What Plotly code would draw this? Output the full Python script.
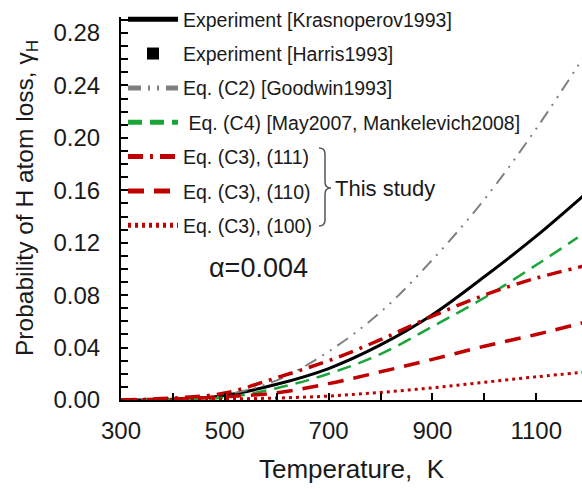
import plotly.graph_objects as go

# ---------------- data ----------------
T = [300, 400, 500, 600, 700, 800, 900, 1000, 1100, 1200]
krasnoperov = [0.0000, 0.0005, 0.0035, 0.012, 0.024, 0.042, 0.065, 0.094, 0.125, 0.159]
goodwin = [0.0000, 0.0005, 0.004, 0.015, 0.037, 0.067, 0.107, 0.153, 0.207, 0.267]
T_may = [300, 400, 500, 600, 700, 800, 900, 1000, 1100, 1180]
may = [0.0000, 0.0003, 0.0018, 0.009, 0.020, 0.035, 0.056, 0.078, 0.103, 0.124]
c3_111 = [0.0000, 0.0015, 0.0053, 0.017, 0.030, 0.046, 0.064, 0.080, 0.093, 0.103]
c3_110 = [0.0000, 0.0008, 0.0025, 0.0055, 0.0125, 0.0215, 0.031, 0.041, 0.050, 0.060]
c3_100 = [0.0000, 0.0003, 0.0008, 0.0015, 0.003, 0.0058, 0.0093, 0.0135, 0.0177, 0.0215]
T_harris = [1200]
harris = [0.118]

y_ticks = [0.00, 0.04, 0.08, 0.12, 0.16, 0.20, 0.24, 0.28]
x_ticks = [300, 500, 700, 900, 1100]

FONT = "Liberation Sans, Arial, sans-serif"
RED = "#c00000"
TXT = "#1a1a1a"

# ---------------- geometry helpers (pixels -> paper) ----------------
W, H = 582, 489
L, R, TOP, BOT = 121, 0, 17, 89
PW, PH = W - L - R, H - TOP - BOT


def px(x):
    return (x - L) / PW


def py(y):
    return (H - BOT - y) / PH


fig = go.Figure()
fig.add_trace(go.Scatter(x=T, y=krasnoperov, mode="lines", name="Experiment [Krasnoperov1993]",
                         line=dict(color="black", width=3, shape="spline"), legendgroup="a"))
fig.add_trace(go.Scatter(x=T_harris, y=harris, mode="markers", name="Experiment [Harris1993]",
                         marker=dict(symbol="square", color="black", size=20), cliponaxis=False,
                         legendgroup="b"))
fig.add_trace(go.Scatter(x=T, y=goodwin, mode="lines", name="Eq. (C2) [Goodwin1993]",
                         line=dict(color="#808080", width=2, shape="spline",
                                   dash="13px,7px,2px,7px,2px,7px"), legendgroup="c"))
fig.add_trace(go.Scatter(x=T_may, y=may, mode="lines", name=" Eq. (C4) [May2007, Mankelevich2008]",
                         line=dict(color="#1aa539", width=2.5, shape="spline", dash="14px,8px"),
                         legendgroup="d"))
fig.add_trace(go.Scatter(x=T, y=c3_111, mode="lines", name="Eq. (C3), (111)",
                         line=dict(color=RED, width=3.5, shape="spline", dash="15px,7px,3px,7px"),
                         legendgroup="e"))
fig.add_trace(go.Scatter(x=T, y=c3_110, mode="lines", name="Eq. (C3), (110)",
                         line=dict(color=RED, width=3.5, shape="spline", dash="16px,10px"),
                         legendgroup="f"))
fig.add_trace(go.Scatter(x=T, y=c3_100, mode="lines", name="Eq. (C3), (100)",
                         line=dict(color=RED, width=3, shape="spline", dash="3px,4px"),
                         legendgroup="g"))

# brace for "This study"
pts = lambda a, b: f"{px(a)},{py(b)}"
brace = (f"M {pts(319,148)} Q {pts(325,148)} {pts(325,154)} L {pts(325,182)} "
         f"Q {pts(325,188)} {pts(331,188)} Q {pts(325,188)} {pts(325,194)} "
         f"L {pts(325,220)} Q {pts(325,226)} {pts(319,226)}")
fig.add_shape(type="path", path=brace, xref="paper", yref="paper",
              line=dict(color="#555555", width=1.5))

fig.add_annotation(x=px(333), y=py(188), xref="paper", yref="paper", text="This study",
                   showarrow=False, xanchor="left", yanchor="middle",
                   font=dict(family=FONT, size=22, color=TXT))
fig.add_annotation(x=px(258), y=py(268), xref="paper", yref="paper", text="α=0.004",
                   showarrow=False, xanchor="center", yanchor="middle",
                   font=dict(family=FONT, size=27, color=TXT))
fig.add_annotation(x=px(26), y=py(198), xref="paper", yref="paper",
                   text="Probability of H atom loss, γ<sub>H</sub>", textangle=-90,
                   showarrow=False, xanchor="center", yanchor="middle",
                   font=dict(family=FONT, size=24.5, color=TXT))

fig.update_layout(
    width=W, height=H,
    margin=dict(l=L, r=R, t=TOP, b=BOT, pad=0, autoexpand=False),
    paper_bgcolor="white", plot_bgcolor="white",
    font=dict(family=FONT, color=TXT),
    showlegend=True,
    legend=dict(x=px(123), y=py(0), xanchor="left", yanchor="top",
                bgcolor="rgba(0,0,0,0)", borderwidth=0,
                font=dict(family=FONT, size=19.5, color=TXT),
                itemwidth=50, tracegroupgap=6, itemsizing="constant", maxheight=480),
)
fig.update_xaxes(range=[300, 300 + PW / 0.519], showline=True, linecolor="black", linewidth=2,
                 showgrid=False, zeroline=False, mirror=False, automargin=False,
                 tickmode="array", tickvals=x_ticks, ticktext=[str(v) for v in x_ticks],
                 ticks="inside", ticklen=7, tickwidth=2, tickcolor="black",
                 minor=dict(tick0=300, dtick=100, ticks="inside", ticklen=7, tickwidth=2,
                            tickcolor="black", showgrid=False),
                 tickfont=dict(family=FONT, size=24, color=TXT), ticklabelstandoff=8,
                 title=dict(text="Temperature,  K", font=dict(family=FONT, size=26, color=TXT),
                            standoff=17))
fig.update_yaxes(range=[0, 383 / 1310.7], showline=True, linecolor="black", linewidth=2,
                 showgrid=False, zeroline=False, mirror=False, automargin=False,
                 tickmode="array", tickvals=y_ticks, ticktext=[f"{v:.2f}" for v in y_ticks],
                 ticks="inside", ticklen=7, tickwidth=2, tickcolor="black",
                 minor=dict(tick0=0, dtick=0.01, ticks="inside", ticklen=7, tickwidth=2,
                            tickcolor="black", showgrid=False),
                 tickfont=dict(family=FONT, size=24, color=TXT), ticklabelstandoff=14)

fig.write_html("out.html")
